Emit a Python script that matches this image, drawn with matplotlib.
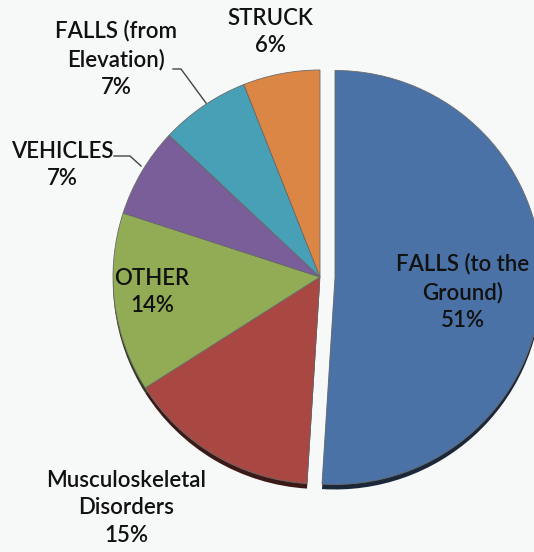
import matplotlib
matplotlib.use("Agg")
import matplotlib.pyplot as plt
import matplotlib.colors as mcolors

categories = ["FALLS (to the\nGround)", "Musculoskeletal\nDisorders", "OTHER", "VEHICLES", "FALLS (from\nElevation)", "STRUCK"]
values = [51, 15, 14, 7, 7, 6]
colors = ["#4A72A6", "#A94743", "#91AC55", "#795E99", "#47A0B6", "#DC8645"]
explode = [15, 0, 0, 0, 0, 0]

W, H = 534, 552
fig = plt.figure(figsize=(W / 100, H / 100), dpi=100)
fig.patch.set_facecolor("#F7F8F8")
ax = fig.add_axes([0, 0, 1, 1])
ax.set_facecolor("#F7F8F8")

cx, cy, r = 320, H - 277, 207

# shadow / 3D edge
dark = [tuple(c * 0.35 for c in mcolors.to_rgb(col)) for col in colors]
ax.pie(values, colors=dark, explode=explode, startangle=90, counterclock=False,
       center=(cx, cy - 5), radius=r, wedgeprops=dict(linewidth=0), frame=True)
ax.pie(values, colors=colors, explode=explode, startangle=90, counterclock=False,
       center=(cx, cy), radius=r, wedgeprops=dict(linewidth=0.6, edgecolor="#6b6b6b"), frame=True)

ax.set_xlim(0, W)
ax.set_ylim(0, H)
ax.set_aspect("equal")
ax.axis("off")

font = dict(family=["Lato", "DejaVu Sans"], fontsize=16, fontweight="semibold", color="#111111",
            ha="center", va="center", linespacing=1.4)
label_pos = [(463, 292), (126, 508), (152, 292), (62, 165), (116, 59), (270, 32)]
for name, v, (x, y) in zip(categories, values, label_pos):
    ax.text(x, H - y, f"{name}\n{v}%", **font)

# leader lines
ax.plot([173, 181, 206], [H - 69, H - 69, H - 103], color="#444444", lw=1)
ax.plot([114, 130, 141], [H - 156, H - 156, H - 166], color="#444444", lw=1)

fig.savefig("out.png", dpi=100, facecolor=fig.get_facecolor())
